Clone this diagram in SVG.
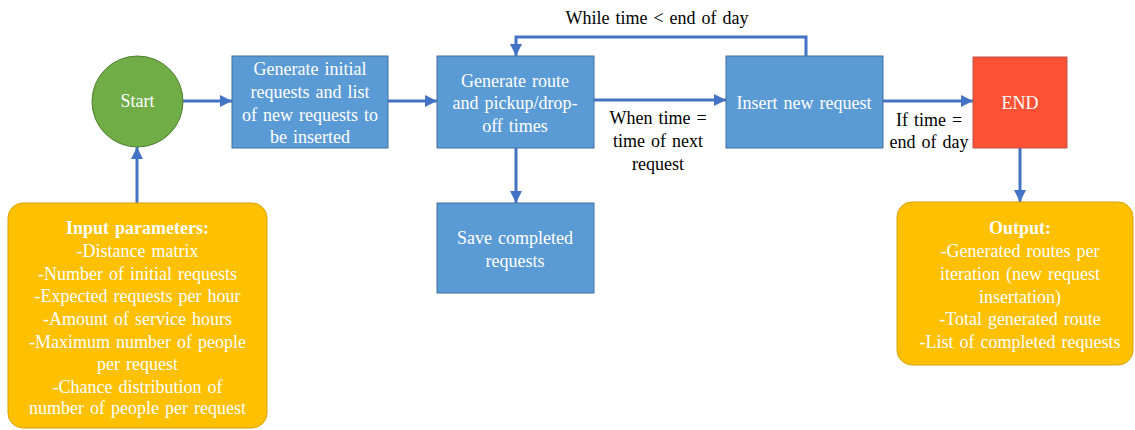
<svg xmlns="http://www.w3.org/2000/svg" width="1135" height="430" viewBox="0 0 1135 430">
<style>
.t{font-family:'Liberation Serif','Times New Roman',serif;font-size:18px;text-anchor:middle;word-spacing:1.5px}
.w{fill:#ffffff}
.k{fill:#000000}
.b{font-weight:bold}
.blue{fill:#5B9BD5;stroke:#41719C;stroke-width:1}
.yel{fill:#FFC000;stroke:#D9A300;stroke-width:1}
.c{fill:none;stroke:#4472C4;stroke-width:3;marker-end:url(#ah)}
</style>
<defs>
<marker id="ah" markerUnits="userSpaceOnUse" markerWidth="12" markerHeight="12" viewBox="0 0 12 12" refX="12" refY="6" orient="auto">
<path d="M0,0 L12,6 L0,12 Z" fill="#4472C4"/>
</marker>
</defs>
<g id="connectors">
<path class="c" d="M183,101 L232,101"/>
<path class="c" d="M388,101 L437,101"/>
<path class="c" d="M594,100 L726,100"/>
<path class="c" d="M883,101 L973,101"/>
<path class="c" d="M806,56 L806,37 L516,37 L516,56"/>
<path class="c" d="M516,148 L516,203"/>
<path class="c" d="M137,203 L137,147"/>
<path class="c" d="M1020,148 L1020,202"/>
<text class="t k" x="657" y="24">While time &lt; end of day</text>
<text class="t k" x="658" y="124">When time =</text>
<text class="t k" x="658" y="147">time of next</text>
<text class="t k" x="658" y="170">request</text>
<text class="t k" x="929" y="126">If time =</text>
<text class="t k" x="929" y="148">end of day</text>
</g>
<g id="start">
<circle cx="137.5" cy="101.5" r="45.5" fill="#70AD47" stroke="#507E32" stroke-width="1"/>
<text class="t w" x="137.5" y="107">Start</text>
</g>
<g id="generate-initial">
<rect class="blue" x="232" y="56" width="156" height="92"/>
<text class="t w" x="310" y="75">Generate initial</text>
<text class="t w" x="310" y="98">requests and list</text>
<text class="t w" x="310" y="121">of new requests to</text>
<text class="t w" x="310" y="143">be inserted</text>
</g>
<g id="generate-route">
<rect class="blue" x="437" y="56" width="157" height="92"/>
<text class="t w" x="515" y="87">Generate route</text>
<text class="t w" x="515" y="109">and pickup/drop-</text>
<text class="t w" x="515" y="132">off times</text>
</g>
<g id="insert-request">
<rect class="blue" x="726" y="56" width="157" height="92"/>
<text class="t w" x="804" y="109">Insert new request</text>
</g>
<g id="end">
<rect x="973" y="57" width="94" height="91" fill="#FF5133" stroke="#C0504D" stroke-width="1"/>
<text class="t w" x="1020" y="109">END</text>
</g>
<g id="save-completed">
<rect class="blue" x="437" y="203" width="157" height="90"/>
<text class="t w" x="515" y="244">Save completed</text>
<text class="t w" x="515" y="267">requests</text>
</g>
<g id="input-parameters">
<rect class="yel" x="8" y="203" width="259" height="225" rx="15"/>
<text class="t w b" x="137.5" y="234">Input parameters:</text>
<text class="t w" x="137.5" y="257">-Distance matrix</text>
<text class="t w" x="137.5" y="280">-Number of initial requests</text>
<text class="t w" x="137.5" y="302">-Expected requests per hour</text>
<text class="t w" x="137.5" y="325">-Amount of service hours</text>
<text class="t w" x="137.5" y="348">-Maximum number of people</text>
<text class="t w" x="137.5" y="370">per request</text>
<text class="t w" x="137.5" y="393">-Chance distribution of</text>
<text class="t w" x="137.5" y="414">number of people per request</text>
</g>
<g id="output">
<rect class="yel" x="897" y="202" width="236" height="163" rx="15"/>
<text class="t w b" x="1020" y="234">Output:</text>
<text class="t w" x="1020" y="257">-Generated routes per</text>
<text class="t w" x="1020" y="280">iteration (new request</text>
<text class="t w" x="1020" y="303">insertation)</text>
<text class="t w" x="1020" y="325">-Total generated route</text>
<text class="t w" x="1020" y="348">-List of completed requests</text>
</g>
</svg>
